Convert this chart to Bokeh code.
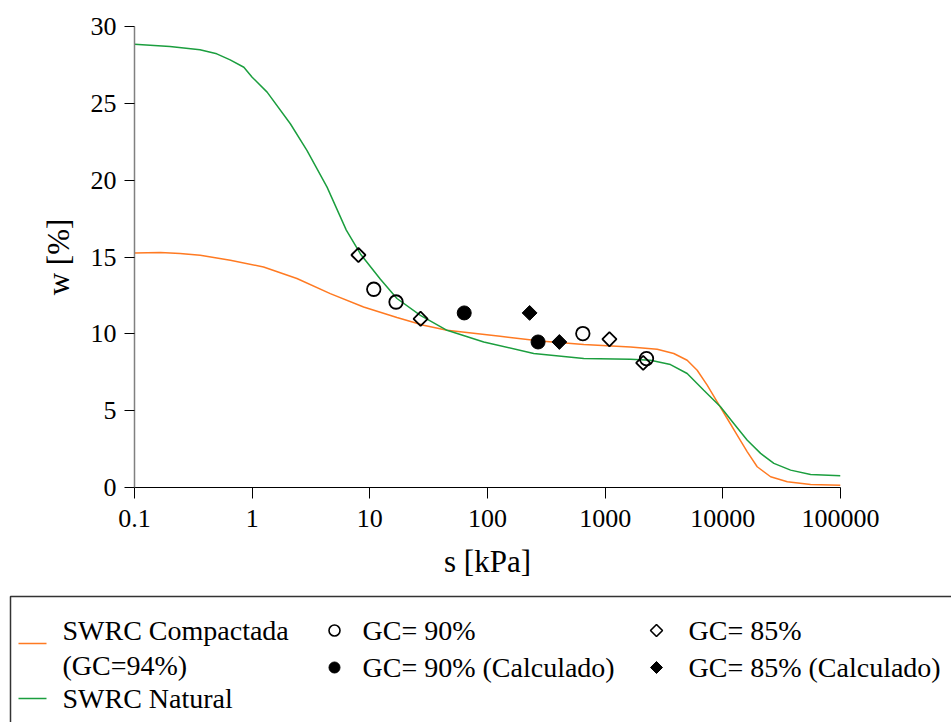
from bokeh.plotting import figure
from bokeh.models import Range1d, FixedTicker
from bokeh.layouts import column
from bokeh.embed import file_html
from bokeh.resources import INLINE
from bokeh.core.properties import value
import math

# ---- data ----
natural_s = [0.1, 0.2, 0.36, 0.5, 0.65, 0.85, 1.0, 1.34, 2.11, 2.92, 4.33, 6.31, 8.32, 12.3,
             17.0, 26.9, 45.3, 92.9, 247, 658, 1641, 2427, 3589, 4977, 6887, 9550,
             12390, 16140, 20940, 27160, 37670, 55720, 100000]
natural_w = [28.85, 28.7, 28.49, 28.22, 27.83, 27.35, 26.7, 25.73, 23.67, 21.94, 19.55, 16.75, 15.2, 13.55,
             12.3, 11.2, 10.23, 9.47, 8.72, 8.39, 8.35, 8.28, 8.0, 7.42, 6.33, 5.25,
             4.17, 3.08, 2.22, 1.57, 1.13, 0.85, 0.76]

compact_s = [0.1, 0.166, 0.244, 0.362, 0.652, 1.25, 2.40, 4.61, 8.85, 17.0, 28.6, 45.3,
             128, 281, 658, 1641, 2767, 3828, 4977, 6053, 7362, 8954, 10890, 13240,
             16140, 19590, 25470, 35320, 55720, 100000]
compact_w = [15.26, 15.29, 15.22, 15.11, 14.79, 14.35, 13.6, 12.62, 11.75, 11.06, 10.56, 10.23,
             9.84, 9.54, 9.30, 9.15, 9.0, 8.72, 8.28, 7.63, 6.66, 5.57, 4.49, 3.41,
             2.32, 1.35, 0.70, 0.37, 0.2, 0.14]

gc90_s = [10.8, 16.7, 646, 2244]
gc90_w = [12.9, 12.07, 10.02, 8.39]
gc85_s = [8.0, 27.0, 1087, 2104]
gc85_w = [15.13, 10.98, 9.65, 8.11]
gc90c_s = [63.4, 269]
gc90c_w = [11.36, 9.47]
gc85c_s = [228, 408]
gc85c_w = [11.36, 9.47]

x_ticks = [0.1, 1, 10, 100, 1000, 10000, 100000]
x_tick_labels = ["0.1", "1", "10", "100", "1000", "10000", "100000"]
y_ticks = [0, 5, 10, 15, 20, 25, 30]

legend_labels = ["SWRC Compactada", "(GC=94%)", "SWRC Natural",
                 "GC= 90%", "GC= 90% (Calculado)", "GC= 85%", "GC= 85% (Calculado)"]

ORANGE = "#ff7a22"
GREEN = "#1b9e3e"
FONT = "Liberation Serif"

p = figure(width=951, height=590, x_axis_type="log",
           x_range=Range1d(0.1, 100000), y_range=Range1d(0, 30),
           output_backend="svg", toolbar_location=None,
           min_border_left=134, min_border_right=111,
           min_border_top=26, min_border_bottom=103)
p.outline_line_color = None
p.grid.visible = False
p.background_fill_color = "white"

p.line(compact_s, compact_w, line_color=ORANGE, line_width=1.5)
p.line(natural_s, natural_w, line_color=GREEN, line_width=1.5)

p.scatter(gc90_s, gc90_w, marker="circle", size=13.5, fill_color=None,
          line_color="black", line_width=1.8)
p.scatter(gc85_s, gc85_w, marker="square", angle=math.pi / 4, size=10,
          fill_color=None, line_color="black", line_width=1.8)
p.scatter(gc90c_s, gc90c_w, marker="circle", size=14, fill_color="black",
          line_color="black")
p.scatter(gc85c_s, gc85c_w, marker="square", angle=math.pi / 4, size=10.5,
          fill_color="black", line_color="black")

xa = p.xaxis[0]
xa.ticker = FixedTicker(ticks=x_ticks, minor_ticks=[])
xa.major_label_overrides = {t: l for t, l in zip(x_ticks, x_tick_labels)}
xa.axis_label = "s [kPa]"
xa.axis_line_color = "black"
xa.major_tick_line_color = "black"
xa.major_tick_out = 11
xa.major_tick_in = 0
xa.minor_tick_line_color = None
xa.major_label_standoff = 11
xa.axis_label_standoff = 14

ya = p.yaxis[0]
ya.ticker = FixedTicker(ticks=y_ticks, minor_ticks=[])
ya.axis_label = "w [%]"
ya.axis_line_color = "#808080"
ya.axis_line_width = 1.5
ya.major_tick_line_color = "black"
ya.major_tick_out = 10
ya.major_tick_in = 0
ya.minor_tick_line_color = None
ya.major_label_standoff = 8
ya.axis_label_standoff = 12

for ax in (xa, ya):
    ax.major_label_text_font = FONT
    ax.major_label_text_font_size = "26px"
    ax.major_label_text_color = "black"
    ax.axis_label_text_font = FONT
    ax.axis_label_text_font_size = "31px"
    ax.axis_label_text_font_style = "normal"
    ax.axis_label_text_color = "black"

# ---- legend panel ----
lg = figure(width=951, height=132, x_range=Range1d(0, 951), y_range=Range1d(132, 0),
            output_backend="svg", toolbar_location=None,
            x_axis_location=None, y_axis_location=None,
            min_border=0, min_border_left=0, min_border_right=0,
            min_border_top=0, min_border_bottom=0)
lg.outline_line_color = None
lg.grid.visible = False

lg.quad(left=[10], right=[1000], top=[6], bottom=[300], fill_color=None,
        line_color="#333333", line_width=1.5)
lg.segment(x0=[18], y0=[53], x1=[46], y1=[53], line_color=ORANGE, line_width=1.5)
lg.segment(x0=[18], y0=[108], x1=[46], y1=[108], line_color=GREEN, line_width=1.5)
lg.scatter([334], [40], marker="circle", size=11, fill_color=None,
           line_color="black", line_width=1.6)
lg.scatter([334], [77], marker="circle", size=11, fill_color="black", line_color="black")
lg.scatter([656], [40], marker="square", angle=math.pi / 4, size=8.5, fill_color=None,
           line_color="black", line_width=1.6)
lg.scatter([656], [77], marker="square", angle=math.pi / 4, size=8.5,
           fill_color="black", line_color="black")

lg.text(x=[62, 62, 62, 362, 362, 688, 688],
        y=[40, 75, 108, 40, 77, 40, 77],
        text=legend_labels, text_baseline="middle", text_align="left",
        text_font=value(FONT), text_font_size="28px", text_color="black")

layout = column(p, column(lg))
open("out.html", "w").write(file_html(layout, INLINE))
